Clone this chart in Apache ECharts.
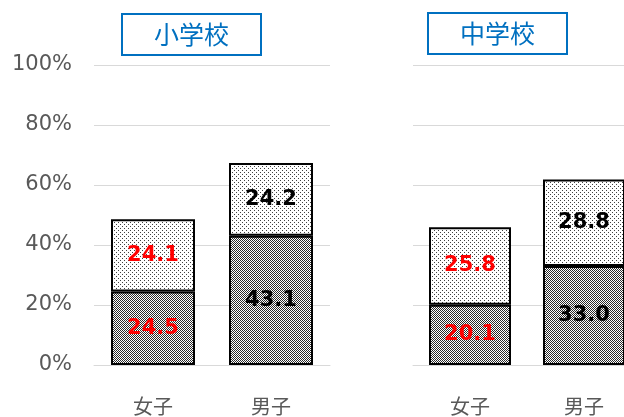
<!DOCTYPE html>
<html><head><meta charset="utf-8">
<script src="https://cdn.jsdelivr.net/npm/echarts@6/dist/echarts.min.js"></script>
<style>html,body{margin:0;padding:0;background:#fff}#c{width:624px;height:417px}</style>
</head><body><div id="c"></div>
<script>
var categories = ['女子', '男子'];
var panels = ['小学校', '中学校'];
var elemBottom = [24.5, 43.1];
var elemTop = [24.1, 24.2];
var juniorBottom = [20.1, 33.0];
var juniorTop = [25.8, 28.8];
var yTicks = [0, 20, 40, 60, 80, 100];
var labelColors = ['#FF0000', '#000000'];

function makePattern(size, dots, fg) {
  var c = document.createElement('canvas');
  c.width = size; c.height = size;
  var ctx = c.getContext('2d');
  ctx.fillStyle = '#ffffff'; ctx.fillRect(0, 0, size, size);
  ctx.fillStyle = fg;
  dots.forEach(function (d) { ctx.fillRect(d[0], d[1], 1, 1); });
  return c;
}
var darkPat = makePattern(2, [[0,0],[1,1]], '#2a2a2a');
var lightPat = makePattern(4, [[0,0],[2,2]], '#404040');

function seriesData(vals, pat) {
  return vals.map(function (v, i) {
    return {
      value: v,
      itemStyle: { color: { image: pat, repeat: 'repeat' }, borderColor: '#000', borderWidth: 2 },
      label: { color: labelColors[i] }
    };
  });
}
function mkSeries(vals, pat, idx, stack) {
  return {
    type: 'bar', stack: stack, xAxisIndex: idx, yAxisIndex: idx,
    barWidth: idx === 0 ? 84 : 82,
    data: seriesData(vals, pat),
    label: { show: true, position: 'inside', fontFamily: 'DejaVu Sans', fontWeight: 'bold', fontSize: 21,
      textBorderWidth: 0, textShadowBlur: 0,
      formatter: function (p) { return p.value.toFixed(1); } },
    emphasis: { disabled: true },
    animation: false
  };
}
function xAx(idx) {
  return { type: 'category', gridIndex: idx, data: categories,
    axisLine: { lineStyle: { color: '#D9D9D9', width: 1 } }, axisTick: { show: false },
    axisLabel: { color: '#595959', fontSize: 20, margin: 31, fontFamily: 'Noto Sans CJK JP' } };
}
function yAx(idx) {
  return { type: 'value', gridIndex: idx, min: yTicks[0], max: yTicks[yTicks.length - 1], interval: 20,
    axisLine: { show: false }, axisTick: { show: false },
    splitLine: { lineStyle: { color: '#D9D9D9', width: 1 } },
    axisLabel: { show: idx === 0, color: '#595959', fontSize: 21, margin: 22, fontFamily: 'DejaVu Sans',
      formatter: '{value}%' } };
}
function titleBox(text, x, y, w, h) {
  return { type: 'group', left: x, top: y, children: [
    { type: 'rect', shape: { x: 0, y: 0, width: w, height: h }, style: { fill: '#fff', stroke: '#0070C0', lineWidth: 2 } },
    { type: 'text', x: w / 2, y: h / 2, style: { text: text, fill: '#0070C0', fontSize: 25, fontFamily: 'Noto Sans CJK JP',
      align: 'center', verticalAlign: 'middle' } }
  ] };
}
var chart = echarts.init(document.getElementById('c'), null, { renderer: 'canvas' });
chart.setOption({
  animation: false,
  grid: [
    { left: 94, width: 236, top: 65, height: 300, outerBoundsMode: 'none', containLabel: false },
    { left: 413, width: 228, top: 65, height: 300, outerBoundsMode: 'none', containLabel: false }
  ],
  xAxis: [xAx(0), xAx(1)],
  yAxis: [yAx(0), yAx(1)],
  series: [
    mkSeries(elemBottom, darkPat, 0, 'a'),
    mkSeries(elemTop, lightPat, 0, 'a'),
    mkSeries(juniorBottom, darkPat, 1, 'b'),
    mkSeries(juniorTop, lightPat, 1, 'b')
  ],
  graphic: [
    titleBox(panels[0], 121, 13, 139, 41),
    titleBox(panels[1], 427, 12, 139, 41)
  ]
});
</script></body></html>
